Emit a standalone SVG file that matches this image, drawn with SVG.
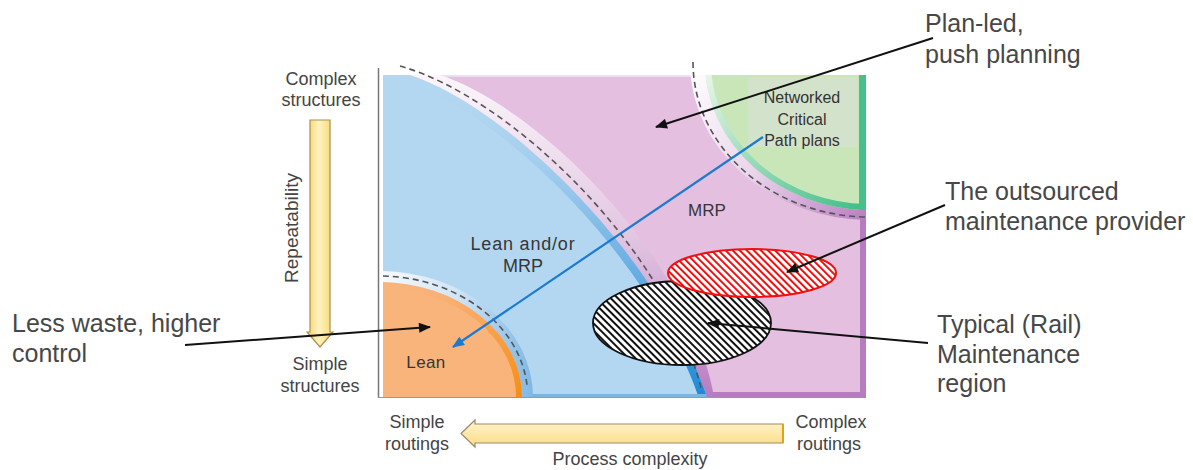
<svg xmlns="http://www.w3.org/2000/svg" width="1193" height="470" viewBox="0 0 1193 470">
<style>
text{font-family:"Liberation Sans",Arial,sans-serif;}
.big{font-size:25px;fill:#474747;}
.ax{font-size:18px;fill:#444;text-anchor:middle;}
.rg{font-size:17px;fill:#363636;text-anchor:middle;}
.nw{font-size:16px;fill:#333;text-anchor:middle;}
.dash{fill:none;stroke:#555;stroke-width:1.6;stroke-dasharray:6 4;}
.blk{fill:none;stroke:#111;stroke-width:2;marker-end:url(#ahB);}
</style>
<defs>
<marker id="ahB" viewBox="0 0 12 10" refX="11" refY="5" markerWidth="13" markerHeight="10" markerUnits="userSpaceOnUse" orient="auto"><path d="M0,0 L12,5 L0,10 Z" fill="#111"/></marker>
<marker id="ahBl" viewBox="0 0 12 10" refX="11" refY="5" markerWidth="13" markerHeight="10" markerUnits="userSpaceOnUse" orient="auto"><path d="M0,0 L12,5 L0,10 Z" fill="#1b7bd0"/></marker>
<pattern id="hatchK" width="5" height="5" patternUnits="userSpaceOnUse" patternTransform="rotate(-45)"><rect width="5" height="5" fill="#fff"/><rect width="2" height="5" fill="#111"/></pattern>
<pattern id="hatchR" width="5" height="5" patternUnits="userSpaceOnUse" patternTransform="rotate(-45)"><rect width="5" height="5" fill="#fff"/><rect width="2" height="5" fill="#f01010"/></pattern>
<clipPath id="plot"><rect x="383" y="75" width="483" height="322"/></clipPath>
<clipPath id="blueClip"><path d="M383,75 L410,75 C510,108 660,258 707,397 L383,397 Z"/></clipPath>
<clipPath id="orClip"><ellipse cx="379" cy="397" rx="143" ry="115"/></clipPath>
<clipPath id="grClip"><ellipse cx="870" cy="62" rx="165" ry="148"/></clipPath>
<linearGradient id="bandB" gradientUnits="userSpaceOnUse" x1="0" y1="75" x2="0" y2="397"><stop offset="0" stop-color="#fcf6fb"/><stop offset="0.5" stop-color="#e2c6e2"/><stop offset="1" stop-color="#b87cc1"/></linearGradient>
<linearGradient id="edgeB" gradientUnits="userSpaceOnUse" x1="0" y1="75" x2="0" y2="397"><stop offset="0" stop-color="#b3d7f1" stop-opacity="0"/><stop offset="0.45" stop-color="#86bde8"/><stop offset="1" stop-color="#1f8ad6"/></linearGradient>
<linearGradient id="bandO" gradientUnits="userSpaceOnUse" x1="383" y1="0" x2="533" y2="0"><stop offset="0" stop-color="#f6fafd"/><stop offset="0.5" stop-color="#cfe4f6"/><stop offset="1" stop-color="#7fb8e5"/></linearGradient>
<linearGradient id="edgeO" gradientUnits="userSpaceOnUse" x1="383" y1="282" x2="522" y2="397"><stop offset="0" stop-color="#f9b47c" stop-opacity="0"/><stop offset="0.6" stop-color="#f8a454"/><stop offset="1" stop-color="#f68e14"/></linearGradient>
<linearGradient id="bandG" gradientUnits="userSpaceOnUse" x1="690" y1="70" x2="866" y2="220"><stop offset="0" stop-color="#ffffff"/><stop offset="0.5" stop-color="#ead4ea"/><stop offset="1" stop-color="#b97ec2"/></linearGradient>
<linearGradient id="edgeG" gradientUnits="userSpaceOnUse" x1="705" y1="75" x2="866" y2="210"><stop offset="0" stop-color="#e8f6ea"/><stop offset="0.4" stop-color="#9fdcbc"/><stop offset="1" stop-color="#3dbd87"/></linearGradient>
<linearGradient id="yv" x1="0" y1="0" x2="1" y2="0"><stop offset="0" stop-color="#f7d266"/><stop offset="0.45" stop-color="#fff2c2"/><stop offset="1" stop-color="#f9d872"/></linearGradient>
<linearGradient id="yh" x1="0" y1="0" x2="0" y2="1"><stop offset="0" stop-color="#fff4cc"/><stop offset="1" stop-color="#fbdc86"/></linearGradient>
</defs>

<g id="chart-area">
<g clip-path="url(#plot)">
<rect x="383" y="75" width="483" height="322" fill="#e4bfdf"/>
<rect x="383" y="75" width="483" height="2" fill="#f1dcef"/>
<rect x="700" y="392" width="166" height="5" fill="#b77bbf"/>
<rect x="860" y="205" width="6" height="192" fill="#b77bbf"/>
<ellipse cx="870" cy="62" rx="180" ry="158" fill="url(#bandG)"/>
<g clip-path="url(#grClip)">
<rect x="700" y="60" width="170" height="160" fill="#c9e6b9"/>
<ellipse cx="870" cy="62" rx="165" ry="148" fill="none" stroke="url(#edgeG)" stroke-width="12"/>
<rect x="859" y="75" width="7" height="140" fill="#45c08c"/>
</g>
<path d="M383,75 L440,75 C535,106 688,252 714,397 L383,397 Z" fill="url(#bandB)"/>
<path d="M383,75 L410,75 C510,108 660,258 707,397 L383,397 Z" fill="#b3d7f1"/>
<g clip-path="url(#blueClip)">
<path d="M410,75 C510,108 660,258 707,397" fill="none" stroke="url(#edgeB)" stroke-width="16"/>
<rect x="383" y="394" width="330" height="3" fill="#7ab4e2"/>
</g>
<ellipse cx="379" cy="397" rx="154" ry="126" fill="url(#bandO)"/>
<ellipse cx="379" cy="397" rx="143" ry="115" fill="#f9b47c"/>
<g clip-path="url(#orClip)">
<ellipse cx="379" cy="397" rx="143" ry="115" fill="none" stroke="url(#edgeO)" stroke-width="12"/>
</g>
</g>
<path class="dash" d="M693,62 A177,155 0 0 0 866,217"/>
<path class="dash" d="M400,66 C510,97 668,248 702,392"/>
<path class="dash" d="M383,276 A149,121 0 0 1 527,385"/>
<line x1="378.5" y1="68" x2="378.5" y2="398" stroke="#777" stroke-width="1.5"/>
<line x1="378" y1="397.5" x2="866" y2="397.5" stroke="#999" stroke-width="1.2"/>
</g>

<g id="node-networked">
<rect x="748" y="77" width="109" height="70" fill="#d3e2cb"/>
<text class="nw" x="802" y="103">Networked</text>
<text class="nw" x="802" y="125">Critical</text>
<text class="nw" x="802" y="146">Path plans</text>
</g>
<g id="node-mrp"><text class="rg" x="707" y="216">MRP</text></g>
<g id="node-leanmrp">
<text class="rg" x="523" y="250" style="font-size:18px;letter-spacing:0.8px">Lean and/or</text>
<text class="rg" x="523" y="272" style="font-size:18px">MRP</text>
</g>
<g id="node-lean"><text class="rg" x="426" y="368" style="letter-spacing:0.4px">Lean</text></g>

<g id="node-outsourced-region">
<ellipse cx="682" cy="323" rx="89" ry="42" fill="url(#hatchK)" stroke="#111" stroke-width="1.8"/>
<ellipse cx="752" cy="273" rx="84" ry="24" fill="url(#hatchR)" stroke="#f01010" stroke-width="2"/>
</g>

<g id="axis-vertical">
<path d="M310,120 H330 V332 H333 L320,347 L307,332 H310 Z" fill="url(#yv)" stroke="#a88f4a" stroke-width="1.2"/>
<text class="ax" x="321" y="85">Complex</text>
<text class="ax" x="321" y="106">structures</text>
<text class="ax" x="320" y="370">Simple</text>
<text class="ax" x="320" y="392">structures</text>
<text class="ax" transform="translate(298,228) rotate(-90)" style="font-size:19px">Repeatability</text>
</g>

<g id="axis-horizontal">
<path d="M783,424 V443 H475 V447 L461,433.5 L475,420 V424 Z" fill="url(#yh)" stroke="#9a8a6a" stroke-width="1.2"/>
<line x1="783" y1="424" x2="783" y2="443" stroke="#e0a418" stroke-width="2"/>
<text class="ax" x="417" y="428">Simple</text>
<text class="ax" x="417" y="450">routings</text>
<text class="ax" x="831" y="428">Complex</text>
<text class="ax" x="829" y="450">routings</text>
<text class="ax" x="630" y="465">Process complexity</text>
</g>

<g id="label-planled"><text class="big" x="925" y="32">Plan-led,</text><text class="big" x="925" y="63">push planning</text></g>
<g id="label-outsourced"><text class="big" x="945" y="200">The outsourced</text><text class="big" x="945" y="230">maintenance provider</text></g>
<g id="label-typical"><text class="big" x="937" y="333">Typical (Rail)</text><text class="big" x="937" y="363">Maintenance</text><text class="big" x="937" y="392">region</text></g>
<g id="label-lesswaste"><text class="big" x="12" y="332">Less waste, higher</text><text class="big" x="12" y="362">control</text></g>

<g id="connectors">
<line class="blk" x1="933" y1="38" x2="656" y2="127"/>
<line class="blk" x1="945" y1="205" x2="787" y2="272"/>
<line class="blk" x1="928" y1="343" x2="708" y2="323"/>
<line class="blk" x1="185" y1="345" x2="430" y2="327"/>
<line x1="763" y1="137" x2="453" y2="347" stroke="#1b7bd0" stroke-width="2.2" marker-end="url(#ahBl)"/>
</g>
</svg>
